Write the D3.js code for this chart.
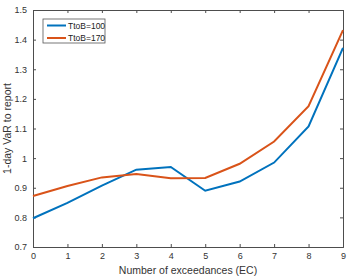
<!DOCTYPE html>
<html>
<head>
<meta charset="utf-8">
<script src="https://cdn.jsdelivr.net/npm/d3@7"></script>
<style>
  body { margin: 0; background: #fff; }
  text { font-family: "Liberation Sans", Arial, sans-serif; }
</style>
</head>
<body>
<div class="chart"></div>
<script>
var ecValues = [0, 1, 2, 3, 4, 5, 6, 7, 8, 9];
var seriesNames = ["TtoB=100", "TtoB=170"];
var ttob100 = [0.797, 0.849, 0.907, 0.961, 0.970, 0.890, 0.921, 0.985, 1.107, 1.372];
var ttob170 = [0.872, 0.906, 0.935, 0.946, 0.932, 0.933, 0.981, 1.056, 1.175, 1.432];
var xTicks = [0, 1, 2, 3, 4, 5, 6, 7, 8, 9];
var yTicks = [0.7, 0.8, 0.9, 1, 1.1, 1.2, 1.3, 1.4, 1.5];
var colors = ["#0072BD", "#D95319"];

var width = 348, height = 280;
var margin = {left: 33, right: 5, top: 10, bottom: 33};
var w = width - margin.left - margin.right;
var h = height - margin.top - margin.bottom;

var svg = d3.select(".chart").append("svg")
  .attr("width", width).attr("height", height);

var x = d3.scaleLinear().domain([0, 9]).range([0, w]);
var y = d3.scaleLinear().domain([0.7, 1.5]).range([h, 0]);

var g = svg.append("g").attr("transform", "translate(" + margin.left + "," + margin.top + ")");

var axisColor = "#4d4d4d";

// axes, ticks pointing inward like matlab
var xAxis = d3.axisBottom(x).tickValues(xTicks).tickSize(-3).tickPadding(6).tickFormat(d3.format("d"));
var yAxis = d3.axisLeft(y).tickValues(yTicks).tickSize(-3).tickPadding(6).tickFormat(function(d){ return d === 1 ? "1" : d3.format(".1f")(d); });

var gx = g.append("g").attr("transform", "translate(0," + h + ")").call(xAxis);
var gy = g.append("g").call(yAxis);
var gxTop = g.append("g").call(d3.axisTop(x).tickValues(xTicks).tickSize(-3).tickFormat(""));
var gyRight = g.append("g").attr("transform", "translate(" + w + ",0)").call(d3.axisRight(y).tickValues(yTicks).tickSize(-3).tickFormat(""));

[gx, gy, gxTop, gyRight].forEach(function(a){
  a.select(".domain").attr("stroke", axisColor).attr("stroke-width", 1);
  a.selectAll(".tick line").attr("stroke", axisColor);
  a.selectAll("text").attr("fill", "#333").style("font-size", "9px");
});

// lines
var line = d3.line()
  .x(function(d, i){ return x(ecValues[i]); })
  .y(function(d){ return y(d); });

[ttob100, ttob170].forEach(function(s, i){
  g.append("path")
    .attr("fill", "none")
    .attr("stroke", colors[i])
    .attr("stroke-width", 2)
    .attr("d", line(s));
});

// legend
var leg = svg.append("g").attr("transform", "translate(43,19)");
leg.append("rect").attr("width", 62).attr("height", 24)
  .attr("fill", "#fff").attr("stroke", "#555").attr("stroke-width", 0.8);
seriesNames.forEach(function(n, i){
  var yy = 6.5 + i * 12.5;
  leg.append("line").attr("x1", 4).attr("x2", 23).attr("y1", yy).attr("y2", yy)
    .attr("stroke", colors[i]).attr("stroke-width", 2);
  leg.append("text").attr("x", 25).attr("y", yy + 3)
    .style("font-size", "8.5px").attr("fill", "#222").text(n);
});

// axis labels
svg.append("text")
  .attr("transform", "translate(" + (margin.left + w / 2) + "," + (height - 6) + ")")
  .style("text-anchor", "middle").style("font-size", "10.5px").attr("fill", "#333")
  .text("Number of exceedances (EC)");

svg.append("text")
  .attr("transform", "translate(11," + (margin.top + h / 2) + ") rotate(-90)")
  .style("text-anchor", "middle").style("font-size", "10.5px").attr("fill", "#333")
  .text("1-day VaR to report");
</script>
</body>
</html>
